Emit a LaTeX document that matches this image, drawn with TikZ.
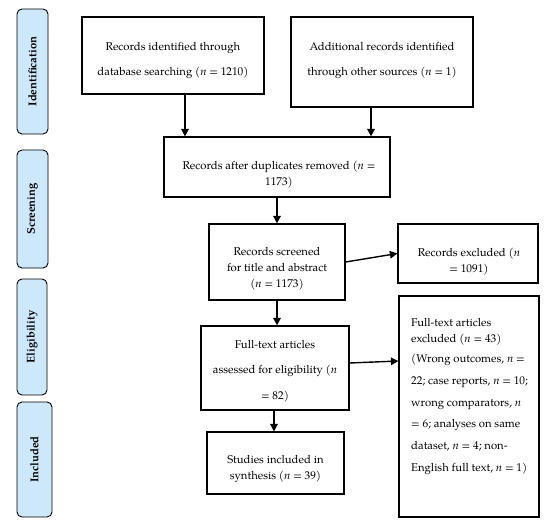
\documentclass[tikz,border=0pt]{standalone}
\usepackage{fontspec}
\setmainfont{TeX Gyre Pagella}
\usetikzlibrary{arrows.meta}
\definecolor{phasefill}{RGB}{204,232,250}
\newcommand{\nn}{\textit{n}}
\begin{document}
\begin{tikzpicture}[x=1pt,y=-1pt,
  box/.style={draw, line width=1.2pt, inner sep=0pt},
  phase/.style={draw, line width=0.9pt, fill=phasefill, rounded corners=5pt, inner sep=0pt},
  phaselabel/.style={rotate=90, font=\fontsize{11.3}{13}\selectfont\bfseries, inner sep=0pt},
  txt/.style={font=\fontsize{11.3}{16}\selectfont, align=center, inner sep=0pt, anchor=north},
  arr/.style={line width=1.4pt, -{Triangle[length=7.5pt,width=7.5pt]}}
]
\useasboundingbox (0,0) rectangle (550,528);
% phase boxes
\node[phase, minimum width=31pt, minimum height=125pt] (p1) at (32.5,71.5) {};
\node[phaselabel] (p1t) at (p1) {Identification};
\node[phase, minimum width=31pt, minimum height=118pt] (p2) at (32.5,209) {};
\node[phaselabel] (p2t) at (p2) {Screening};
\node[phase, minimum width=30pt, minimum height=116pt] (p3) at (32,337) {};
\node[phaselabel] (p3t) at (p3) {Eligibility};
\node[phase, minimum width=35pt, minimum height=115pt] (p4) at (34.5,459.5) {};
\node[phaselabel] (p4t) at (p4) {Included};
% main boxes
\node[box, minimum width=182pt, minimum height=77pt] (b1) at (173,55.5) {};
\node[txt] (b1t) at (173,42) {Records identified through\\[9pt]database searching (\nn{} = 1210)};
\node[box, minimum width=182pt, minimum height=90pt] (b2) at (382,62) {};
\node[txt] (b2t) at (382,42) {Additional records identified\\[9pt]through other sources (\nn{} = 1)};
\node[box, minimum width=226pt, minimum height=60pt] (b3) at (277,167) {};
\node[txt] (b3t) at (279,161) {Records after duplicates removed (\nn{} =\\1173)};
\node[box, minimum width=136pt, minimum height=76pt] (b4) at (277,262) {};
\node[txt] (b4t) at (277,247) {Records screened\\for title and abstract\\(\nn{} = 1173)};
\node[box, minimum width=140pt, minimum height=59pt] (b5) at (468,253.5) {};
\node[txt] (b5t) at (469,248) {Records excluded (\nn{}\\= 1091)};
\node[box, minimum width=148pt, minimum height=84pt] (b6) at (275,368) {};
\node[txt] (b6t) at (275,340) {Full-text articles\\[9.5pt]assessed for eligibility (\nn{}\\[9.5pt]= 82)};
\node[box, minimum width=140pt, minimum height=221pt] (b7) at (469,406.5) {};
\node[txt, align=left, anchor=north west] (b7t) at (411,318) {Full-text articles\\excluded (\nn{} = 43)\\[4pt](Wrong outcomes, \nn{} =\\[5.8pt]22; case reports, \nn{} = 10;\\[5.8pt]wrong comparators, \nn{}\\[5.8pt]= 6; analyses on same\\[5.8pt]dataset, \nn{} = 4; non-\\[5.8pt]English full text, \nn{} = 1)};
\node[box, minimum width=137pt, minimum height=62pt] (b8) at (275.5,463) {};
\node[txt] (b8t) at (275.5,455) {Studies included in\\synthesis (\nn{} = 39)};
% arrows
\draw[arr] ([xshift=12pt]b1.south) -- ([xshift=12pt]b1.south |- b3.north);
\draw[arr] ([xshift=-11pt]b2.south) -- ([xshift=-11pt]b2.south |- b3.north);
\draw[arr] (b3.south) -- (b3.south |- b4.north);
\draw[arr] (b4.east) -- (b5.west);
\draw[arr] (b4.south) -- (b4.south |- b6.north);
\draw[arr] ([yshift=5pt]b6.east) -- ([yshift=45.5pt]b7.west);
\draw[arr] ([xshift=-1pt]b6.south) -- ([xshift=-1pt]b6.south |- b8.north);
\end{tikzpicture}
\end{document}
